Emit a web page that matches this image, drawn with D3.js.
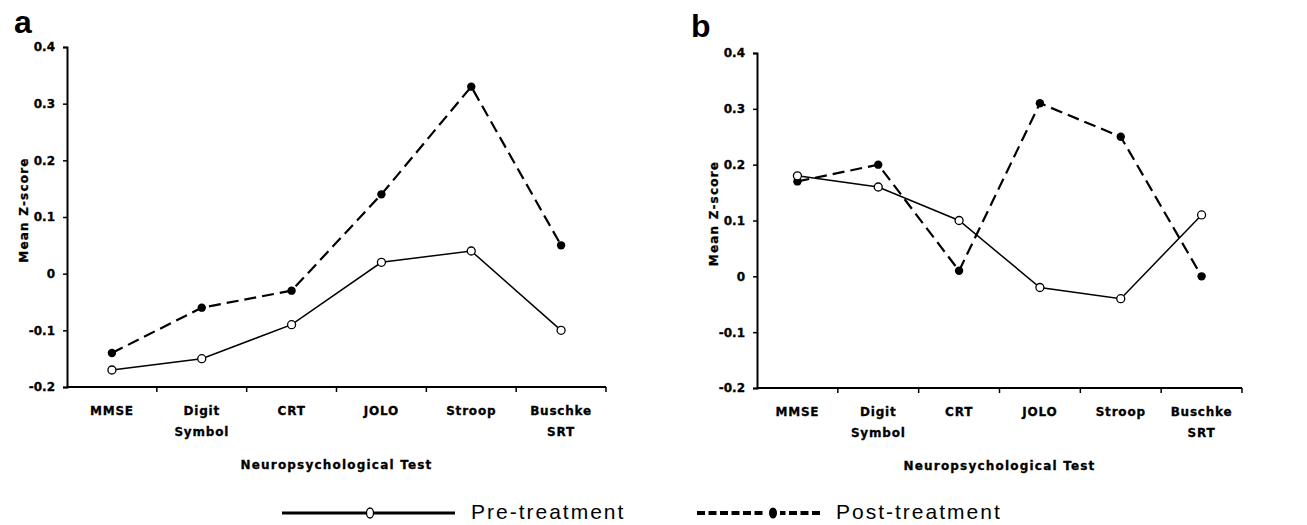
<!DOCTYPE html>
<html>
<head>
<meta charset="utf-8">
<script src="https://cdn.jsdelivr.net/npm/d3@7"></script>
<style>
  body { margin: 0; background: #fff; }
  svg { display: block; }
  .tick text, .cat { font-family: "DejaVu Sans", sans-serif; font-weight: bold; font-size: 12px; fill: #000; stroke: #000; stroke-width: 0.3px; }
  .axTitle { font-family: "DejaVu Sans", sans-serif; font-weight: bold; font-size: 12px; letter-spacing: 1.2px; stroke: #000; stroke-width: 0.3px; }
  .panelLbl { font-family: "Liberation Sans", Arial, sans-serif; font-weight: bold; font-size: 32px; }
  .legTxt { font-family: "Liberation Sans", Arial, sans-serif; font-size: 21px; letter-spacing: 2px; }
</style>
</head>
<body>
<svg id="chart" width="1307" height="525"></svg>
<script>
'use strict';

// categories shared by both panels
const tests = ["MMSE", "Digit|Symbol", "CRT", "JOLO", "Stroop", "Buschke|SRT"];
const yTicks = [-0.2, -0.1, 0, 0.1, 0.2, 0.3, 0.4];

// panel a
const preA = [-0.17, -0.15, -0.09, 0.02, 0.04, -0.10];
const postA = [-0.14, -0.06, -0.03, 0.14, 0.33, 0.05];

// panel b
const preB = [0.18, 0.16, 0.10, -0.02, -0.04, 0.11];
const postB = [0.17, 0.20, 0.01, 0.31, 0.25, 0.00];

const svg = d3.select("#chart");

function drawPanel(opts) {
    let g = svg.append("g");

    let x = d3.scaleBand().domain(tests).range([opts.left, opts.right]);
    let y = d3.scaleLinear().domain([-0.2, 0.4]).range([opts.bottom, opts.top]);

    // y axis (plain hyphen for negatives, like the original)
    let yAx = g.append("g")
        .attr("transform", "translate(" + opts.left + ",0)")
        .call(d3.axisLeft(y).tickValues(yTicks).tickSize(4).tickPadding(8)
            .tickFormat(d => d === 0 ? "0" : d.toFixed(1)));
    yAx.select(".domain").attr("stroke-width", 2);
    yAx.selectAll(".tick line").attr("stroke-width", 1.5);

    // x axis: ticks at category boundaries
    let xAx = g.append("g")
        .attr("transform", "translate(0," + opts.bottom + ")");
    xAx.append("line")
        .attr("x1", opts.left).attr("x2", opts.right)
        .attr("stroke", "#000").attr("stroke-width", 2);
    xAx.selectAll(".xt")
        .data(tests)
        .enter().append("line")
        .attr("class", "xt")
        .attr("x1", d => x(d) + x.bandwidth()).attr("x2", d => x(d) + x.bandwidth())
        .attr("y1", 0).attr("y2", 5)
        .attr("stroke", "#000").attr("stroke-width", 1.5);

    let labels = g.selectAll(".cat")
        .data(tests)
        .enter().append("text")
        .attr("class", "cat")
        .attr("text-anchor", "middle")
        .attr("letter-spacing", "0.8px");
    labels.each(function (d) {
        let parts = d.split("|");
        let t = d3.select(this);
        parts.forEach((p, i) => {
            t.append("tspan")
                .attr("x", x(d) + x.bandwidth() / 2)
                .attr("y", opts.bottom + 28 + i * 21)
                .text(p);
        });
    });

    // axis titles
    g.append("text")
        .attr("class", "axTitle")
        .attr("x", (opts.left + opts.right) / 2)
        .attr("y", opts.bottom + 82)
        .attr("text-anchor", "middle")
        .text("Neuropsychological Test");

    g.append("text")
        .attr("class", "axTitle")
        .attr("transform", "translate(" + (opts.left - 39) + "," + ((opts.top + opts.bottom) / 2 - 7) + ") rotate(-90)")
        .attr("text-anchor", "middle")
        .text("Mean Z-score");

    g.append("text")
        .attr("class", "panelLbl")
        .attr("x", opts.lblX).attr("y", opts.lblY)
        .text(opts.label);

    let line = d3.line()
        .x((d, i) => x(tests[i]) + x.bandwidth() / 2)
        .y(d => y(d));

    // post-treatment (dashed, filled)
    g.append("path")
        .datum(opts.post)
        .attr("d", line)
        .attr("fill", "none")
        .attr("stroke", "#000")
        .attr("stroke-width", 2.2)
        .attr("stroke-dasharray", "12,6");

    // pre-treatment (solid, open)
    g.append("path")
        .datum(opts.pre)
        .attr("d", line)
        .attr("fill", "none")
        .attr("stroke", "#000")
        .attr("stroke-width", 1.5);

    g.selectAll(".postPt")
        .data(opts.post)
        .enter().append("circle")
        .attr("class", "postPt")
        .attr("cx", (d, i) => x(tests[i]) + x.bandwidth() / 2)
        .attr("cy", d => y(d))
        .attr("r", 4.2)
        .attr("fill", "#000");

    g.selectAll(".prePt")
        .data(opts.pre)
        .enter().append("circle")
        .attr("class", "prePt")
        .attr("cx", (d, i) => x(tests[i]) + x.bandwidth() / 2)
        .attr("cy", d => y(d))
        .attr("r", 4)
        .attr("fill", "#fff")
        .attr("stroke", "#000")
        .attr("stroke-width", 1.3);
}

drawPanel({ label: "a", lblX: 14, lblY: 33, left: 67, right: 606, top: 47, bottom: 387, pre: preA, post: postA });
drawPanel({ label: "b", lblX: 691, lblY: 37, left: 757, right: 1242, top: 53, bottom: 388, pre: preB, post: postB });

// legend
let leg = svg.append("g");
const legY = 513;
leg.append("line").attr("x1", 282).attr("x2", 455).attr("y1", legY).attr("y2", legY)
    .attr("stroke", "#000").attr("stroke-width", 3.2);
leg.append("ellipse").attr("cx", 370).attr("cy", legY).attr("rx", 3.5).attr("ry", 5)
    .attr("fill", "#fff").attr("stroke", "#000").attr("stroke-width", 1.3);
leg.append("text").attr("class", "legTxt").attr("x", 471).attr("y", legY + 6).text("Pre-treatment");

leg.append("line").attr("x1", 697).attr("x2", 822).attr("y1", legY).attr("y2", legY)
    .attr("stroke", "#000").attr("stroke-width", 4).attr("stroke-dasharray", "8,3.5");
leg.append("rect").attr("x", 766).attr("y", legY - 3).attr("width", 14).attr("height", 6).attr("fill", "#fff");
leg.append("ellipse").attr("cx", 773).attr("cy", legY).attr("rx", 4).attr("ry", 5.5).attr("fill", "#000");
leg.append("text").attr("class", "legTxt").attr("x", 836).attr("y", legY + 6).text("Post-treatment");
</script>
</body>
</html>
